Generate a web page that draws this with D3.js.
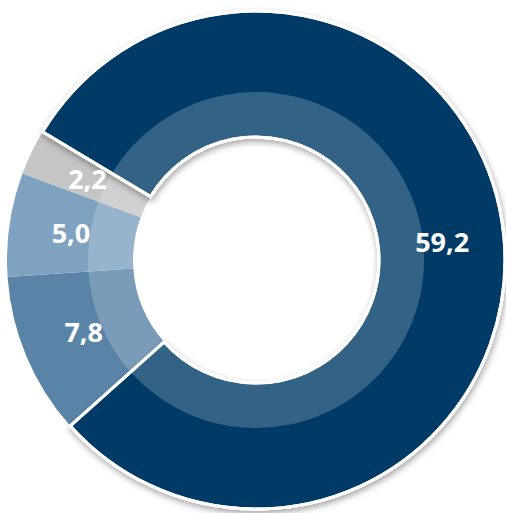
<!DOCTYPE html>
<html><head><meta charset="utf-8">
<script src="https://cdn.jsdelivr.net/npm/d3@7"></script>
<style>html,body{margin:0;padding:0;background:#fff;overflow:hidden}</style>
</head><body>
<svg id="c" width="506" height="513"></svg>
<script>
const categories = ["A", "B", "C", "D"];
const values = [59.2, 7.8, 5.0, 2.2];
const labels = ["59,2", "7,8", "5,0", "2,2"];
const colors = ["#003b67", "#5a84a7", "#7fa2c0", "#c5c5c5"];

const cx = 256, cy = 260, R = 249, r = 123, rBand = 168, rLabel = 187;
const svg = d3.select("#c");
const defs = svg.append("defs");
const f = defs.append("filter").attr("id","sh").attr("x","-20%").attr("y","-20%").attr("width","140%").attr("height","140%");
f.append("feDropShadow").attr("dx",1).attr("dy",3).attr("stdDeviation",3).attr("flood-color","#000").attr("flood-opacity",0.35);

const pie = d3.pie().sort(null).value(d => d)
  .startAngle(-59 * Math.PI / 180).endAngle((360 - 59) * Math.PI / 180);
const arcs = pie(values);
const arc = d3.arc().innerRadius(r).outerRadius(R);
const band = d3.arc().innerRadius(r).outerRadius(rBand);
const lab = d3.arc().innerRadius(rLabel).outerRadius(rLabel);

const g = svg.append("g").attr("transform", `translate(${cx},${cy})`);
const order = [1, 2, 3, 0];
order.forEach(i => {
  const a = arcs[i];
  const sg = g.append("g");
  if (i === 0) sg.attr("filter", "url(#sh)");
  sg.append("path").attr("d", arc(a)).attr("fill", colors[i])
    .attr("stroke", i === 0 ? "#fff" : "none").attr("stroke-width", 3).attr("stroke-linejoin","miter");
  sg.append("path").attr("d", band({startAngle: a.startAngle, endAngle: a.endAngle}))
    .attr("fill", "#fff").attr("fill-opacity", 0.2);
  if (i === 0) {
    sg.append("path").attr("d", arc(a)).attr("fill", "none")
      .attr("stroke", "#fff").attr("stroke-width", 3);
  }
});

arcs.forEach((a, i) => {
  const [x, y] = lab.centroid(a);
  g.append("text").attr("x", x).attr("y", y).attr("dy", "0.36em")
    .attr("text-anchor", "middle")
    .attr("font-family", "'Open Sans', sans-serif").attr("font-weight", 700)
    .attr("font-size", 27).attr("fill", "#fff").text(labels[i]);
});
</script>
</body></html>
